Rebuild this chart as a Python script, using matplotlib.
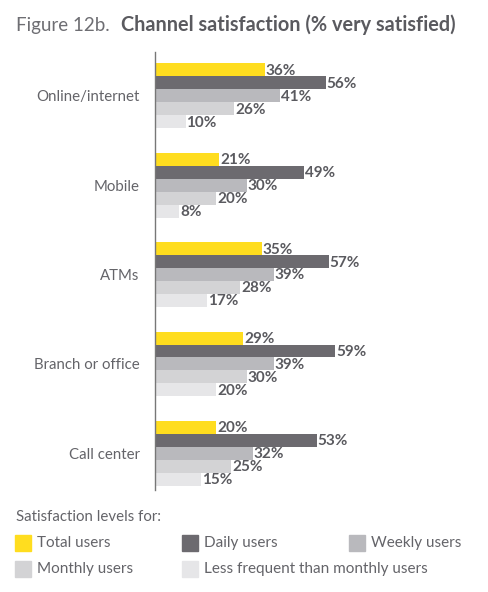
import numpy as np
import matplotlib.pyplot as plt
from matplotlib.patches import Rectangle

plt.rcParams['font.family'] = ['Lato', 'DejaVu Sans']

# data
channels = ['Online/internet', 'Mobile', 'ATMs', 'Branch or office', 'Call center']
series = ['Total users', 'Daily users', 'Weekly users', 'Monthly users',
          'Less frequent than monthly users']
total = [36, 21, 35, 29, 20]
daily = [56, 49, 57, 59, 53]
weekly = [41, 30, 39, 39, 32]
monthly = [26, 20, 28, 30, 25]
less_freq = [10, 8, 17, 20, 15]
values = [total, daily, weekly, monthly, less_freq]

colors = ['#FFDD1F', '#6C6A6F', '#B9B9BD', '#D3D3D5', '#E6E6E8']
txt = '#646469'
lbl = '#5A5A5F'

fig = plt.figure(figsize=(4.88, 5.92), dpi=100)
ax = fig.add_axes([155 / 488, 1 - 490 / 592, 305 / 488, 438 / 592])

bh = 0.145
y = np.arange(len(channels))
for k, (vals, c) in enumerate(zip(values, colors)):
    pos = y + (k - 2) * bh
    ax.barh(pos, vals, height=bh, color=c, edgecolor='none')
    for p, v in zip(pos, vals):
        ax.text(v + 0.3, p + 0.01, f'{v}%', va='center', ha='left', fontsize=11,
                fontweight='bold', color=lbl)

ax.set_xlim(0, 100)
ax.set_ylim(4.41, -0.49)
ax.set_yticks(y)
ax.set_yticklabels(channels, fontsize=10.8, color=txt)
ax.tick_params(axis='y', length=0, pad=11)
ax.set_xticks([])
for s in ['top', 'right', 'bottom']:
    ax.spines[s].set_visible(False)
ax.spines['left'].set_color('#777777')
ax.spines['left'].set_linewidth(1)

# title
fig.text(16 / 488, 1 - 25 / 592, 'Figure 12b.', fontsize=13.5, color='#6E6E73',
         va='center', ha='left')
fig.text(121 / 488, 1 - 25 / 592, 'Channel satisfaction (% very satisfied)',
         fontsize=14.3, color='#5A5A5F', fontweight='bold', va='center', ha='left')

# legend
fig.text(16 / 488, 1 - 517 / 592, 'Satisfaction levels for:', fontsize=10.8,
         color=txt, va='center', ha='left')
legend_pos = [(15, 543), (182, 543), (349, 543), (15, 569), (182, 569)]
for (lx, ly), name, c in zip(legend_pos, series, colors):
    fig.patches.append(Rectangle((lx / 488, 1 - (ly + 8) / 592), 16 / 488, 16 / 592,
                                 transform=fig.transFigure, color=c, figure=fig))
    fig.text((lx + 22) / 488, 1 - ly / 592, name, fontsize=11, color=txt,
             va='center', ha='left')

fig.savefig('out.png', dpi=100, facecolor='white')
